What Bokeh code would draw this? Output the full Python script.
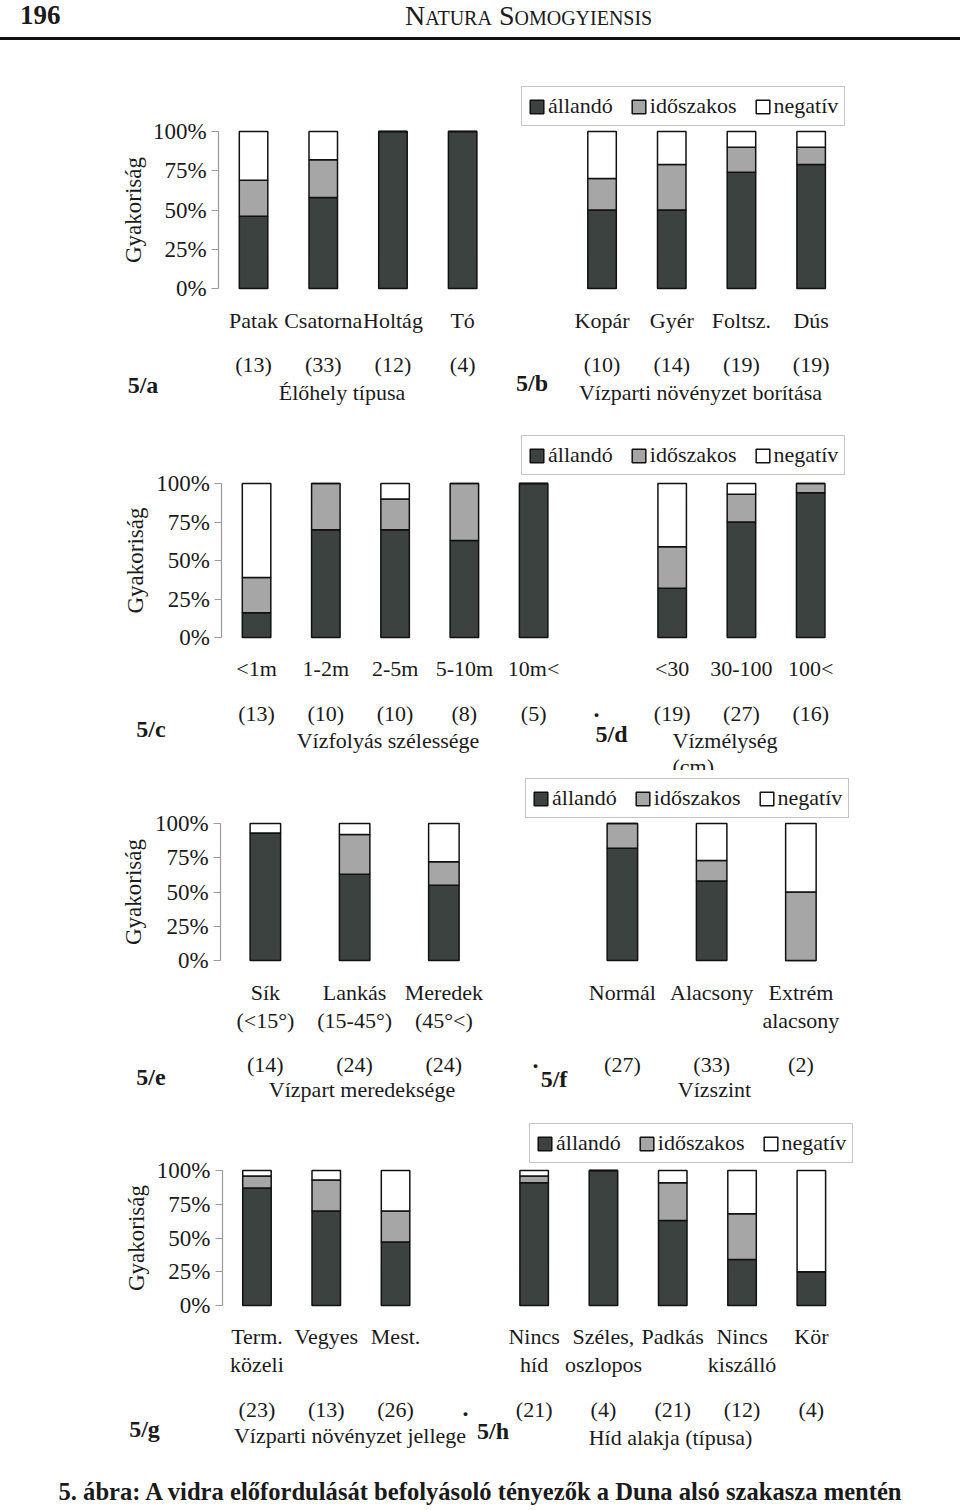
import math
from bokeh.plotting import figure
from bokeh.models import FactorRange, Range1d, FixedTicker, PrintfTickFormatter, Div
from bokeh.layouts import column
from bokeh.core.properties import value
from bokeh.embed import file_html
from bokeh.resources import INLINE

FONT = "Liberation Serif"
INK = "#1a1a1a"
PAGE_W = 960
FRAME_L = 100      # common left border (page px)
BORDER_R = 62      # common right border

SERIES = ["állandó", "időszakos", "negatív"]
COLORS = ["#3c4240", "#a6a6a6", "#ffffff"]

# ---- data (percent of sites) ----
# 5/a Élőhely típusa
cats_a = ["Patak", "Csatorna", "Holtág", "Tó"]
n_a = ["(13)", "(33)", "(12)", "(4)"]
perm_a = [46, 58, 100, 100]
temp_a = [23, 24, 0, 0]
neg_a = [31, 18, 0, 0]
# 5/b Vízparti növényzet borítása
cats_b = ["Kopár", "Gyér", "Foltsz.", "Dús"]
n_b = ["(10)", "(14)", "(19)", "(19)"]
perm_b = [50, 50, 74, 79]
temp_b = [20, 29, 16, 11]
neg_b = [30, 21, 10, 10]
# 5/c Vízfolyás szélessége
cats_c = ["<1m", "1-2m", "2-5m", "5-10m", "10m<"]
n_c = ["(13)", "(10)", "(10)", "(8)", "(5)"]
perm_c = [16, 70, 70, 63, 100]
temp_c = [23, 30, 20, 37, 0]
neg_c = [61, 0, 10, 0, 0]
# 5/d Vízmélység (cm)
cats_d = ["<30", "30-100", "100<"]
n_d = ["(19)", "(27)", "(16)"]
perm_d = [32, 75, 94]
temp_d = [27, 18, 6]
neg_d = [41, 7, 0]
# 5/e Vízpart meredeksége
cats_e = ["Sík\n(<15°)", "Lankás\n(15-45°)", "Meredek\n(45°<)"]
n_e = ["(14)", "(24)", "(24)"]
perm_e = [93, 63, 55]
temp_e = [0, 29, 17]
neg_e = [7, 8, 28]
# 5/f Vízszint
cats_f = ["Normál", "Alacsony", "Extrém\nalacsony"]
n_f = ["(27)", "(33)", "(2)"]
perm_f = [82, 58, 0]
temp_f = [18, 15, 50]
neg_f = [0, 27, 50]
# 5/g Vízparti növényzet jellege
cats_g = ["Term.\nközeli", "Vegyes", "Mest."]
n_g = ["(23)", "(13)", "(26)"]
perm_g = [87, 70, 47]
temp_g = [9, 23, 23]
neg_g = [4, 7, 30]
# 5/h Híd alakja (típusa)
cats_h = ["Nincs\nhíd", "Széles,\noszlopos", "Padkás", "Nincs\nkiszálló", "Kör"]
n_h = ["(21)", "(4)", "(21)", "(12)", "(4)"]
perm_h = [91, 100, 63, 34, 25]
temp_h = [5, 0, 28, 34, 0]
neg_h = [4, 0, 9, 32, 75]

Y_TICKS = [0, 25, 50, 75, 100]
Y_TITLE = "Gyakoriság"

ROWS = [
    dict(left=(cats_a, n_a, perm_a, temp_a, neg_a), right=(cats_b, n_b, perm_b, temp_b, neg_b),
         top=42, h=378, y0=288, y100=131, x0=218.2, slot=69.7, bar_px=28.5,
         lab_y=(320, 348), cnt_y=364, legend=(521, 126), ylab_x=133,
         texts=[("5/a", 142.5, 384, "center", True), ("5/b", 531.5, 382, "center", True),
                ("Élőhely típusa", 341.5, 392, "center", False),
                ("Vízparti növényzet borítása", 700, 392, "center", False)]),
    dict(left=(cats_c, n_c, perm_c, temp_c, neg_c), right=(cats_d, n_d, perm_d, temp_d, neg_d),
         top=420, h=350, y0=637, y100=483, x0=221.4, slot=69.25, bar_px=28.5,
         lab_y=(668, 696), cnt_y=713, legend=(521, 475), ylab_x=135,
         texts=[("5/c", 150.5, 728, "center", True), ("5/d", 611, 733, "center", True),
                ("·", 596, 714, "center", True),
                ("Vízfolyás szélessége", 387.5, 740, "center", False),
                ("Vízmélység", 672, 740, "left", False), ("(cm)", 672, 766, "left", False)]),
    dict(left=(cats_e, n_e, perm_e, temp_e, neg_e), right=(cats_f, n_f, perm_f, temp_f, neg_f),
         top=770, h=342, y0=960, y100=823, x0=220.3, slot=89.3, bar_px=30.5,
         lab_y=(992, 1020), cnt_y=1064, legend=(525, 818), ylab_x=133,
         texts=[("5/e", 150.5, 1076, "center", True), ("5/f", 553.5, 1078, "center", True),
                ("·", 535, 1065, "center", True),
                ("Vízpart meredeksége", 361.5, 1089, "center", False),
                ("Vízszint", 714, 1089, "center", False)]),
    dict(left=(cats_g, n_g, perm_g, temp_g, neg_g), right=(cats_h, n_h, perm_h, temp_h, neg_h),
         top=1112, h=358, y0=1305, y100=1170, x0=221.8, slot=69.3, bar_px=28.5,
         lab_y=(1336, 1364), cnt_y=1409, legend=(529, 1163), ylab_x=136,
         texts=[("5/g", 144, 1428, "center", True), ("5/h", 492.5, 1430, "center", True),
                ("·", 465, 1413, "center", True),
                ("Vízparti növényzet jellege", 349.5, 1435, "center", False),
                ("Híd alakja (típusa)", 670, 1437, "center", False)]),
]


def make_row(g):
    lc, ln, lp, lt, lneg = g["left"]
    rc, rn, rp, rt, rneg = g["right"]
    factors = ["  "] + list(lc) + [" "] + list(rc)      # one blank slot left, one between panels
    n_bar = len(factors) - 1
    s = g["slot"]
    pad = (g["x0"] - FRAME_L) / s - 1.0                 # extra padding (in slots) on each side
    right = g["x0"] + n_bar * s + pad * s
    width = int(round(right)) + BORDER_R
    fw = width - FRAME_L - BORDER_R
    s_act = fw / (len(factors) + 2 * pad)
    ppu = (g["y0"] - g["y100"]) / 100.0
    top, h = g["top"], g["h"]
    ymin = -(top + h - g["y0"]) / ppu
    ymax = (g["y0"] - top) / ppu

    def yd(py):
        return (g["y0"] - py) / ppu

    def xd(px):
        return (px - FRAME_L) / s_act - pad

    p = figure(width=width, height=h,
               x_range=FactorRange(factors=factors, range_padding=pad, range_padding_units="absolute"),
               y_range=Range1d(ymin, ymax), x_axis_location=None, toolbar_location=None,
               output_backend="svg", min_border_left=FRAME_L, min_border_right=BORDER_R,
               min_border_top=0, min_border_bottom=0, outline_line_color=None,
               background_fill_color="white", border_fill_color="white")
    p.xgrid.visible = False
    p.ygrid.visible = False

    cats = list(lc) + list(rc)
    data = dict(cat=cats, perm=list(lp) + list(rp), temp=list(lt) + list(rt), neg=list(lneg) + list(rneg))
    p.vbar_stack(["perm", "temp", "neg"], x="cat", width=g["bar_px"] / s_act, source=data,
                 fill_color=COLORS, line_color="#111111", line_width=1.5, legend_label=SERIES)

    ax = p.yaxis[0]
    ax.fixed_location = 1.0          # left edge of the first category slot
    ax.bounds = (0, 100)
    ax.ticker = FixedTicker(ticks=Y_TICKS)
    ax.formatter = PrintfTickFormatter(format="%d%%")
    ax.axis_line_color = "#9a9a9a"
    ax.axis_line_width = 1.2
    ax.major_tick_line_color = "#9a9a9a"
    ax.major_tick_in = 0
    ax.major_tick_out = 7
    ax.minor_tick_line_color = None
    ax.major_label_standoff = 5
    ax.major_label_text_font = FONT
    ax.major_label_text_font_size = "23px"
    ax.major_label_text_color = INK

    leg = p.legend[0]
    leg.orientation = "horizontal"
    lx, ly = g["legend"]
    leg.location = (lx - FRAME_L, top + h - ly)
    leg.label_text_font = FONT
    leg.label_text_font_size = "22px"
    leg.label_text_color = INK
    leg.glyph_width = 17
    leg.glyph_height = 17
    leg.label_standoff = 3
    leg.spacing = 17
    leg.padding = 6
    leg.margin = 0
    leg.border_line_color = "#8c8c8c"
    leg.border_line_width = 1.5
    leg.background_fill_alpha = 1.0

    tstyle = dict(text_font=value(FONT), text_font_size="22px", text_color=INK,
                  text_align="center", text_baseline="middle")
    # category labels (one or two lines)
    l1 = [c.split("\n")[0] for c in cats]
    l2x = [c for c in cats if "\n" in c]
    l2 = [c.split("\n")[1] for c in cats if "\n" in c]
    p.text(x=cats, y=[yd(g["lab_y"][0])] * len(cats), text=l1, **tstyle)
    if l2:
        p.text(x=l2x, y=[yd(g["lab_y"][1])] * len(l2x), text=l2, **tstyle)
    counts = list(ln) + list(rn)
    p.text(x=cats, y=[yd(g["cnt_y"])] * len(cats), text=counts, **tstyle)

    # panel tags and titles
    for t, px, py, al, bold in g["texts"]:
        p.text(x=[xd(px)], y=[yd(py)], text=[t], text_font=value(FONT),
               text_font_size="24px" if bold else "22px",
               text_font_style="bold" if bold else "normal", text_color=INK,
               text_align=al, text_baseline="middle")
    # y-axis title
    p.text(x=[xd(g["ylab_x"])], y=[50], text=[Y_TITLE], angle=math.pi / 2,
           text_font=value(FONT), text_font_size="23px", text_color=INK,
           text_align="center", text_baseline="middle")
    return p


header = Div(width=PAGE_W, height=42, margin=0, text=(
    "<div style=\"position:relative;width:960px;height:42px;font-family:'Liberation Serif';color:#1a1a1a;\">"
    "<span style=\"position:absolute;left:20px;top:2px;font-size:27px;font-weight:bold;line-height:1;\">196</span>"
    "<span style=\"position:absolute;left:405px;top:2px;font-size:28px;font-variant:small-caps;line-height:1;\">"
    "Natura Somogyiensis</span>"
    "<div style=\"position:absolute;left:0;top:37px;width:960px;height:0;border-top:3px solid #111;\"></div>"
    "</div>"))

caption = Div(width=PAGE_W, height=38, margin=0, text=(
    "<div style=\"position:relative;width:960px;height:38px;font-family:'Liberation Serif';color:#1a1a1a;\">"
    "<div style=\"position:absolute;left:0;top:10px;width:960px;text-align:center;font-size:24.6px;"
    "font-weight:bold;line-height:1;white-space:nowrap;\">"
    "5. ábra: A vidra előfordulását befolyásoló tényezők a Duna alsó szakasza mentén</div>"
    "</div>"))

rows = [make_row(g) for g in ROWS]
layout = column([header] + rows + [caption], spacing=0)
open("out.html", "w").write(file_html(layout, INLINE))
